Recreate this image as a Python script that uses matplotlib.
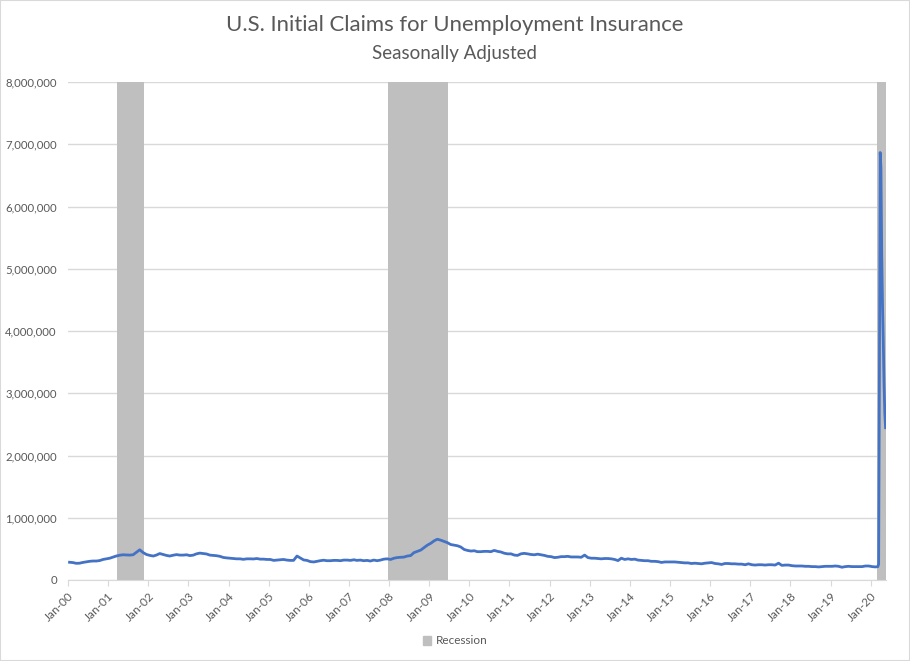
import numpy as np
import pandas as pd
import matplotlib
matplotlib.use("Agg")
import matplotlib.pyplot as plt
import matplotlib.dates as mdates
from matplotlib.ticker import FuncFormatter, MultipleLocator
from matplotlib.patches import Patch

plt.rcParams['font.family'] = ['Lato', 'DejaVu Sans']

# monthly average initial claims (thousands), Jan 2000 - Feb 2020
claims_monthly = [
    285, 280, 268, 270, 282, 292, 300, 305, 305, 312, 330, 340,   # 2000
    350, 368, 385, 398, 405, 402, 400, 405, 445, 485, 440, 410,   # 2001
    395, 385, 400, 425, 410, 395, 385, 398, 408, 400, 400, 405,   # 2002
    392, 400, 420, 432, 425, 418, 400, 395, 390, 380, 362, 355,   # 2003
    350, 345, 340, 340, 332, 340, 340, 338, 345, 335, 335, 330,   # 2004
    330, 315, 320, 325, 330, 320, 315, 315, 385, 355, 322, 315,   # 2005
    295, 290, 300, 310, 318, 310, 310, 315, 315, 310, 320, 320,   # 2006
    315, 325, 315, 320, 310, 315, 305, 320, 310, 320, 335, 340,   # 2007
    330, 350, 360, 365, 368, 385, 392, 440, 460, 480, 520, 560,   # 2008
    590, 630, 655, 640, 620, 600, 570, 560, 550, 530, 490, 475,   # 2009
    465, 470, 455, 455, 460, 460, 455, 475, 460, 450, 430, 420,   # 2010
    420, 400, 395, 420, 428, 420, 410, 405, 415, 405, 395, 380,   # 2011
    375, 360, 365, 375, 375, 380, 370, 370, 370, 365, 400, 360,   # 2012
    350, 350, 345, 340, 345, 345, 340, 330, 312, 350, 330, 340,   # 2013
    330, 335, 320, 315, 310, 310, 300, 300, 295, 282, 290, 290,   # 2014
    290, 290, 285, 280, 275, 275, 265, 270, 265, 260, 270, 275,   # 2015
    280, 265, 260, 250, 265, 265, 260, 260, 255, 255, 245, 260,   # 2016
    245, 240, 245, 245, 240, 245, 245, 240, 270, 235, 240, 240,   # 2017
    230, 225, 225, 225, 220, 220, 215, 215, 210, 215, 220, 220,   # 2018
    220, 225, 220, 205, 215, 220, 215, 215, 215, 215, 225, 225,   # 2019
    215, 210,                                                     # 2020
]

# weekly claims for the spring of 2020 (thousands)
weeks_2020 = ['2020-03-07', '2020-03-14', '2020-03-21', '2020-03-28',
              '2020-04-04', '2020-04-11', '2020-04-18', '2020-04-25',
              '2020-05-02', '2020-05-09', '2020-05-16']
claims_2020 = [215, 256, 3307, 6867, 6615, 5237, 4442, 3867, 3176, 2687, 2446]

recession_start = ['2001-03-20', '2007-12-20', '2020-02-24']
recession_end = ['2001-11-21', '2009-06-17', '2020-05-20']

months = pd.date_range('2000-01-01', periods=len(claims_monthly), freq='MS') + pd.Timedelta(days=14)
dates = list(months) + list(pd.to_datetime(weeks_2020))
values = np.array(claims_monthly + claims_2020) * 1000

fig = plt.figure(figsize=(9.1, 6.61), dpi=100)
ax = fig.add_axes([68 / 910, 1 - 580 / 661, (886 - 68) / 910, (580 - 82) / 661])

grey = '#595959'
for s, e in zip(recession_start, recession_end):
    ax.axvspan(pd.Timestamp(s), pd.Timestamp(e), color='#bfbfbf', lw=0, zorder=1)

ax.plot(dates, values, color='#4472c4', lw=2.0, zorder=3)

ax.set_ylim(0, 8_000_000)
ax.yaxis.set_major_locator(MultipleLocator(1_000_000))
ax.yaxis.set_major_formatter(FuncFormatter(lambda v, p: f"{int(v):,}"))
ax.set_xlim(pd.Timestamp('2000-01-01'), pd.Timestamp('2020-05-20'))
ax.xaxis.set_major_locator(mdates.YearLocator(month=1, day=1))
ax.xaxis.set_major_formatter(mdates.DateFormatter('%b-%y'))

ax.grid(axis='y', color='#d9d9d9', lw=1)
ax.set_axisbelow(True)
for side in ['top', 'right', 'left']:
    ax.spines[side].set_visible(False)
ax.spines['bottom'].set_color('#d9d9d9')
ax.tick_params(axis='y', length=0, labelsize=8.2, labelcolor=grey, pad=8)
ax.tick_params(axis='x', length=4, color='#d9d9d9', labelsize=8.5, labelcolor=grey)
for lab in ax.get_xticklabels():
    lab.set_rotation(45)
    lab.set_ha('right')
    lab.set_rotation_mode('anchor')

fig.text(0.5, 1 - 25 / 661, 'U.S. Initial Claims for Unemployment Insurance',
         ha='center', va='center', fontsize=15.9, color=grey)
fig.text(0.5, 1 - 53 / 661, 'Seasonally Adjusted',
         ha='center', va='center', fontsize=13.5, color=grey)

fig.legend(handles=[Patch(color='#bfbfbf', label='Recession')], loc='center',
           bbox_to_anchor=(0.5, 1 - 641 / 661), frameon=False, fontsize=8.5,
           labelcolor=grey, handlelength=0.7, handleheight=0.7, handletextpad=0.4)

fig.patches.append(plt.Rectangle((0, 0), 1, 1, transform=fig.transFigure,
                                 fill=False, edgecolor='#d9d9d9', lw=1.5))

fig.savefig('out.png', dpi=100)
